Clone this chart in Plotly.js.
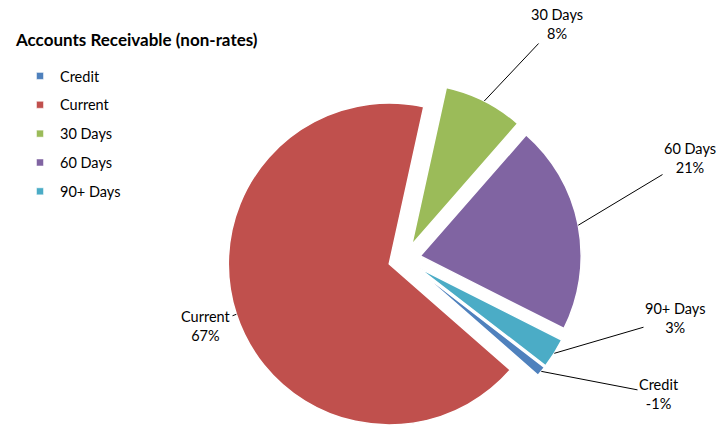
<!DOCTYPE html>
<html>
<head>
<meta charset="utf-8">
<script src="https://cdn.plot.ly/plotly-3.0.1.min.js"></script>
<style>
html, body { margin: 0; padding: 0; overflow: hidden; background: #fff; }
#chart { width: 718px; height: 436px; }
</style>
</head>
<body>
<div id="chart"></div>
<script>
// ---- data ----
const categories = ['Credit', 'Current', '30 Days', '60 Days', '90+ Days'];
const percentValues = [-1, 67, 8, 21, 3];
const sliceColors = ['#4F81BD', '#C0504D', '#9BBB59', '#8064A2', '#4BACC6'];

// ---- layout constants ----
const W = 718, H = 436;
const pieCx = 404.5, boxSize = 354, pullFrac = 0.1, rotation = 127.6;
const labelCenters = [[659, 394], [206, 326], [557, 24], [690, 158], [675, 318]];
const FONT = 'Lato, "Open Sans", sans-serif';

const sliceSizes = percentValues.map(v => Math.abs(v));
const total = sliceSizes.reduce((a, b) => a + b, 0);
const r = boxSize / (2 + 2 * pullFrac);
const cy = H - boxSize / 2;

const traces = [{
  type: 'pie',
  labels: categories,
  values: sliceSizes,
  sort: false,
  direction: 'clockwise',
  rotation: rotation,
  pull: categories.map(() => pullFrac),
  marker: { colors: sliceColors, line: { color: '#ffffff', width: 1.5 } },
  textinfo: 'none',
  hoverinfo: 'label+percent',
  showlegend: false,
  domain: { x: [(pieCx - boxSize / 2) / W, (pieCx + boxSize / 2) / W], y: [0, boxSize / H] }
}];

// legend entries (one per category)
categories.forEach((c, i) => {
  traces.push({
    type: 'scatter', mode: 'markers', x: [null], y: [null], name: c,
    legendgroup: 'g' + i, showlegend: true,
    marker: { symbol: 'square', size: 7, color: sliceColors[i], line: { color: '#ffffff', width: 0.5 } }
  });
});

// outside labels with leader lines, anchored at each slice's mid-angle on its arc
const annotations = [];
let cum = 0;
categories.forEach((c, i) => {
  const mid = (rotation + (cum + sliceSizes[i] / 2) * 360 / total) * Math.PI / 180;
  cum += sliceSizes[i];
  const px = pieCx + (1 + pullFrac) * r * Math.sin(mid);
  const py = cy - (1 + pullFrac) * r * Math.cos(mid);
  annotations.push({
    xref: 'paper', yref: 'paper', x: px / W, y: 1 - py / H,
    ax: labelCenters[i][0] - px, ay: labelCenters[i][1] - py,
    text: c + '<br>' + percentValues[i] + '%',
    showarrow: true, arrowhead: 0, arrowwidth: 1, arrowcolor: '#000', standoff: 0,
    font: { family: FONT, size: 14.5, color: '#000' }, align: 'center'
  });
});

const layout = {
  width: W, height: H,
  margin: { l: 0, r: 0, t: 0, b: 0 },
  paper_bgcolor: '#fff', plot_bgcolor: '#fff',
  title: {
    text: '<b>Accounts Receivable (non-rates)</b>',
    x: 16 / W, xanchor: 'left', xref: 'paper',
    y: 1 - 40 / H, yanchor: 'middle', yref: 'container',
    font: { family: FONT, size: 17, color: '#000' }
  },
  xaxis: { visible: false }, yaxis: { visible: false },
  showlegend: true,
  legend: {
    x: 20 / W, y: 1 - 60 / H, xanchor: 'left', yanchor: 'top',
    traceorder: 'grouped', tracegroupgap: 7,
    font: { family: FONT, size: 14.5, color: '#000' },
    bgcolor: 'rgba(0,0,0,0)'
  },
  annotations: annotations
};

Plotly.newPlot('chart', traces, layout, { displayModeBar: false, staticPlot: true });
</script>
</body>
</html>
